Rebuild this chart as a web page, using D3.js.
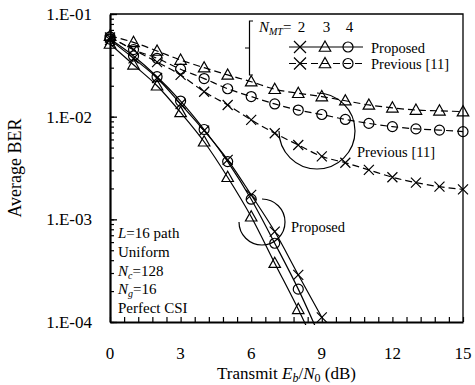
<!DOCTYPE html>
<html>
<head>
<meta charset="utf-8">
<script src="https://cdn.jsdelivr.net/npm/d3@7"></script>
<style>
  body { margin: 0; background: #fff; }
  svg { font-family: "Liberation Serif", "Times New Roman", serif; }
</style>
</head>
<body>
<svg id="chart"></svg>
<script>
// Eb/N0 points (dB)
const snrPrev = [0, 1, 2, 3, 4, 5, 6, 7, 8, 9, 10, 11, 12, 13, 14, 15];
const snrProp = [0, 1, 2, 3, 4, 5, 6, 7, 8, 9];

// Previous [11], N_MT = 2, 3, 4
const prevMT2 = [5.9e-2, 4.5e-2, 3.4e-2, 2.55e-2, 1.75e-2, 1.3e-2, 9.3e-3, 6.9e-3, 5.3e-3, 4.1e-3, 3.56e-3, 3.03e-3, 2.57e-3, 2.28e-3, 2.08e-3, 1.96e-3];
const prevMT3 = [6.1e-2, 5.3e-2, 4.36e-2, 3.56e-2, 3.0e-2, 2.55e-2, 2.19e-2, 1.85e-2, 1.69e-2, 1.57e-2, 1.43e-2, 1.3e-2, 1.22e-2, 1.16e-2, 1.14e-2, 1.12e-2];
const prevMT4 = [6.0e-2, 4.5e-2, 3.7e-2, 2.9e-2, 2.35e-2, 1.87e-2, 1.57e-2, 1.33e-2, 1.16e-2, 1.05e-2, 9.4e-3, 8.6e-3, 8.0e-3, 7.6e-3, 7.4e-3, 7.15e-3];

// Proposed, N_MT = 2, 3, 4
const propMT2 = [5.6e-2, 3.7e-2, 2.38e-2, 1.33e-2, 7.3e-3, 3.8e-3, 1.73e-3, 7.6e-4, 2.88e-4, 1.11e-4];
const propMT3 = [5.1e-2, 3.2e-2, 2.0e-2, 1.1e-2, 5.7e-3, 2.57e-3, 1.06e-3, 3.74e-4, 1.33e-4, 4.3e-5];
const propMT4 = [5.7e-2, 3.9e-2, 2.45e-2, 1.42e-2, 7.5e-3, 3.65e-3, 1.57e-3, 5.85e-4, 2.09e-4, 6.5e-5];

const xTicks = [0, 3, 6, 9, 12, 15];
const xTickLabels = ["0", "3", "6", "9", "12", "15"];
const yTicks = [1e-4, 1e-3, 1e-2, 1e-1];
const yTickLabels = ["1.E-04", "1.E-03", "1.E-02", "1.E-01"];
const mtValues = ["2", "3", "4"];

const width = 475, height = 385;
const plotL = 110, plotR = 463, plotT = 14, plotB = 322;

const svg = d3.select("#chart").attr("width", width).attr("height", height);

const x = d3.scaleLinear().domain([0, 15]).range([plotL, plotR]);
const y = d3.scaleLog().domain([1e-4, 1e-1]).range([plotB, plotT]);

svg.append("clipPath").attr("id", "plot-clip")
  .append("rect")
  .attr("x", plotL).attr("y", plotT)
  .attr("width", plotR - plotL).attr("height", plotB - plotT + 3);

// frame (top and right thinner)
svg.append("path")
  .attr("d", `M${plotL},${plotT}H${plotR}V${plotB}`)
  .attr("fill", "none").attr("stroke", "#000").attr("stroke-width", 1.3);

// minor y ticks
svg.append("g")
  .attr("transform", `translate(${plotL},0)`)
  .call(d3.axisLeft(y).ticks(10).tickSize(-4).tickSizeOuter(0).tickFormat(""))
  .call(g => g.select(".domain").remove())
  .selectAll("line").attr("stroke-width", 1.2);

// major y ticks + labels
svg.append("g")
  .attr("transform", `translate(${plotL},0)`)
  .call(d3.axisLeft(y).tickValues(yTicks).tickSize(-7).tickSizeOuter(0).tickPadding(18)
    .tickFormat((d, i) => yTickLabels[i]))
  .call(g => g.select(".domain").attr("stroke-width", 2.2))
  .call(g => g.selectAll("line").attr("stroke-width", 1.3))
  .call(g => g.selectAll("text").attr("font-family", "Liberation Serif, Times New Roman, serif")
    .attr("font-size", 17).attr("fill", "#000"));

// x ticks every 0.6 dB
const xMinor = xTicks.slice(0, -1).flatMap(t => [0, 0.6, 1.2, 1.8, 2.4].map(s => t + s)).concat([15]);
svg.append("g")
  .attr("transform", `translate(0,${plotB})`)
  .call(d3.axisBottom(x).tickValues(xMinor).tickSize(-5).tickSizeOuter(0).tickFormat(""))
  .call(g => g.select(".domain").attr("stroke-width", 2.2))
  .selectAll("line").attr("stroke-width", 1.2);

svg.append("g")
  .selectAll("text")
  .data(xTicks)
  .join("text")
  .attr("x", d => x(d))
  .attr("y", 359)
  .attr("text-anchor", "middle")
  .attr("font-size", 17)
  .text((d, i) => xTickLabels[i]);

// axis titles
svg.append("text")
  .attr("transform", `translate(21,${(plotT + plotB) / 2}) rotate(-90)`)
  .attr("text-anchor", "middle")
  .attr("font-size", 18)
  .text("Average BER");

const xt = svg.append("text")
  .attr("x", (plotL + plotR) / 2)
  .attr("y", 379)
  .attr("text-anchor", "middle")
  .attr("font-size", 17);
xt.append("tspan").text("Transmit ");
xt.append("tspan").attr("font-style", "italic").text("E");
xt.append("tspan").attr("font-style", "italic").attr("font-size", 12).attr("dy", 3).text("b");
xt.append("tspan").attr("dy", -3).text("/");
xt.append("tspan").attr("font-style", "italic").text("N");
xt.append("tspan").attr("font-size", 12).attr("dy", 3).text("0");
xt.append("tspan").attr("dy", -3).text(" (dB)");

// marker shapes
function drawMarker(g, shape, cx, cy, s) {
  if (shape === "x") {
    g.append("path")
      .attr("d", `M${cx - s},${cy - s}L${cx + s},${cy + s}M${cx - s},${cy + s}L${cx + s},${cy - s}`)
      .attr("stroke", "#000").attr("stroke-width", 1.2).attr("fill", "none");
  } else if (shape === "tri") {
    g.append("path")
      .attr("d", `M${cx},${cy - s * 1.2}L${cx + s * 1.15},${cy + s * 0.85}L${cx - s * 1.15},${cy + s * 0.85}Z`)
      .attr("stroke", "#000").attr("stroke-width", 1.2).attr("fill", "none");
  } else {
    g.append("circle")
      .attr("cx", cx).attr("cy", cy).attr("r", s)
      .attr("stroke", "#000").attr("stroke-width", 1.2).attr("fill", "none");
  }
}

const series = [
  { snr: snrPrev, values: prevMT2, shape: "x", dash: "7,4" },
  { snr: snrPrev, values: prevMT3, shape: "tri", dash: "7,4" },
  { snr: snrPrev, values: prevMT4, shape: "circ", dash: "7,4" },
  { snr: snrProp, values: propMT2, shape: "x", dash: null },
  { snr: snrProp, values: propMT3, shape: "tri", dash: null },
  { snr: snrProp, values: propMT4, shape: "circ", dash: null }
];

const line = d3.line()
  .x(d => x(d[0]))
  .y(d => y(d[1]))
  .curve(d3.curveMonotoneX);

const plot = svg.append("g");
series.forEach(s => {
  const pts = s.snr.map((t, i) => [t, s.values[i]]);
  plot.append("path")
    .attr("d", line(pts))
    .attr("clip-path", "url(#plot-clip)")
    .attr("fill", "none")
    .attr("stroke", "#000")
    .attr("stroke-width", 1.2)
    .attr("stroke-dasharray", s.dash);
  const mg = plot.append("g");
  pts.filter(p => p[1] >= 1e-4).forEach(p => drawMarker(mg, s.shape, x(p[0]), y(p[1]), 5));
});

// legend
const lg = svg.append("g");
lg.append("path")
  .attr("d", "M253,21H249.5V75H253M249.5,48H245")
  .attr("fill", "none").attr("stroke", "#000").attr("stroke-width", 1.2);

const ntxt = lg.append("text").attr("x", 259).attr("y", 32).attr("font-size", 15);
ntxt.append("tspan").attr("font-style", "italic").text("N");
ntxt.append("tspan").attr("font-style", "italic").attr("font-size", 10).attr("dy", 3).text("MT");
ntxt.append("tspan").attr("dy", -3).text("=");

const legX = [300, 325, 348];
lg.selectAll(".mt")
  .data(mtValues)
  .join("text")
  .attr("class", "mt")
  .attr("x", (d, i) => legX[i] + 1.5)
  .attr("y", 32)
  .attr("text-anchor", "middle")
  .attr("font-size", 15)
  .text(d => d);

const legRows = [
  { label: "Proposed", y: 47, dash: null },
  { label: "Previous [11]", y: 63.5, dash: "7,4" }
];
legRows.forEach(r => {
  lg.append("line")
    .attr("x1", 289).attr("x2", 363)
    .attr("y1", r.y).attr("y2", r.y)
    .attr("stroke", "#000").attr("stroke-width", 1.2)
    .attr("stroke-dasharray", r.dash);
  ["x", "tri", "circ"].forEach((sh, i) => drawMarker(lg, sh, legX[i], r.y, sh === "x" ? 6 : 5));
  lg.append("text")
    .attr("x", 371).attr("y", r.y + 5.5)
    .attr("font-size", 14.5)
    .text(r.label);
});

// callout arcs
function callout(cx, cy, r, label, lx, ly) {
  const p = d3.path();
  p.arc(cx, cy, r, -Math.PI / 2, Math.PI);
  svg.append("path").attr("d", p.toString())
    .attr("fill", "none").attr("stroke", "#000").attr("stroke-width", 1.2);
  svg.append("text").attr("x", lx).attr("y", ly).attr("font-size", 14.5).text(label);
}
callout(317, 131, 38, "Previous [11]", 357, 156.5);
callout(262, 222, 23, "Proposed", 291, 231.5);

// parameter block
const params = svg.append("g").attr("font-size", 15);
const t1 = params.append("text").attr("x", 118).attr("y", 238);
t1.append("tspan").attr("font-style", "italic").text("L");
t1.append("tspan").text("=16 path");
params.append("text").attr("x", 118).attr("y", 257).text("Uniform");
const t3 = params.append("text").attr("x", 118).attr("y", 275.5);
t3.append("tspan").attr("font-style", "italic").text("N");
t3.append("tspan").attr("font-style", "italic").attr("font-size", 10).attr("dy", 3).text("c");
t3.append("tspan").attr("dy", -3).text("=128");
const t4 = params.append("text").attr("x", 118).attr("y", 294);
t4.append("tspan").attr("font-style", "italic").text("N");
t4.append("tspan").attr("font-style", "italic").attr("font-size", 10).attr("dy", 3).text("g");
t4.append("tspan").attr("dy", -3).text("=16");
params.append("text").attr("x", 118).attr("y", 312.5).text("Perfect CSI");
</script>
</body>
</html>
